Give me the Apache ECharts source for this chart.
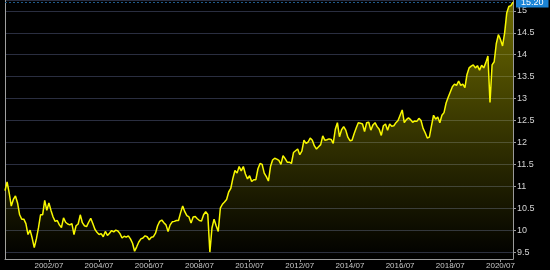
<!DOCTYPE html>
<html>
<head>
<meta charset="utf-8">
<script src="https://cdn.jsdelivr.net/npm/echarts@6/dist/echarts.min.js"></script>
<style>
html,body{margin:0;padding:0;background:#000;}
#chart{width:550px;height:270px;}
</style>
</head>
<body>
<div id="chart"></div>
<script>
// Monthly categories from 2000/10 to 2021/01
const startYear = 2000, startMonth = 10, monthCount = 244;
const categories = [];
for (let k = 0; k < monthCount; k++) {
  const m = startMonth - 1 + k;
  const y = startYear + Math.floor(m / 12);
  const mm = (m % 12) + 1;
  categories.push(y + '/' + (mm < 10 ? '0' + mm : mm));
}

const xTickLabels = ['2002/07','2004/07','2006/07','2008/07','2010/07','2012/07','2014/07','2016/07','2018/07','2020/07'];

const values2000_2004 = [
  10.9, 11.1, 10.85, 10.55, 10.7, 10.78, 10.62, 10.35, 10.25, 10.25,
  10.15, 9.9, 10.0, 9.82, 9.6, 9.8, 10.05, 10.35, 10.35, 10.68,
  10.45, 10.62, 10.45, 10.3, 10.2, 10.22, 10.12, 10.06, 10.28, 10.18,
  10.14, 10.12, 10.15, 9.9, 10.1, 10.14, 10.35, 10.17, 10.1, 10.08,
  10.18, 10.27, 10.15, 10.02, 9.95, 9.9, 9.92, 9.85, 9.97, 9.88
];
const values2004_2008 = [
  9.93, 9.99, 9.96, 10.0, 9.98, 9.92, 9.82, 9.86, 9.84, 9.87,
  9.8, 9.7, 9.52, 9.62, 9.73, 9.8, 9.82, 9.87, 9.85, 9.78,
  9.84, 9.85, 9.93, 10.1, 10.2, 10.23, 10.17, 10.12, 9.97, 10.12,
  10.19, 10.2, 10.22, 10.22, 10.4, 10.55, 10.42, 10.33, 10.3, 10.16,
  10.3, 10.31, 10.26, 10.22, 10.21, 10.35
];
const values2008_2013 = [
  10.42, 10.36, 9.5, 10.05, 10.25, 10.1, 9.97, 10.5, 10.59, 10.64,
  10.7, 10.87, 10.95, 11.18, 11.36, 11.3, 11.45, 11.35, 11.45, 11.28,
  11.17, 11.24, 11.11, 11.15, 11.15, 11.4, 11.52, 11.5, 11.3, 11.22,
  11.12, 11.45, 11.6, 11.64, 11.62, 11.59, 11.5, 11.7, 11.63, 11.55,
  11.55, 11.52, 11.77, 11.81, 11.85, 11.72, 11.8, 12.05, 11.98, 12.01,
  12.1, 12.05, 11.92, 11.85, 11.9
];
const values2013_2018 = [
  11.95, 12.15, 12.05, 12.06, 12.08, 12.07, 11.98, 12.3, 12.45, 12.13,
  12.29, 12.36, 12.28, 12.12, 12.04, 12.05, 12.2, 12.33, 12.45, 12.44,
  12.42, 12.25, 12.45, 12.46, 12.28, 12.4, 12.45, 12.36, 12.3, 12.16,
  12.38, 12.42, 12.28, 12.42, 12.37, 12.38, 12.45, 12.5, 12.62, 12.74,
  12.45, 12.52, 12.56, 12.52, 12.46, 12.49, 12.48, 12.55, 12.5, 12.32,
  12.22, 12.1, 12.12, 12.38, 12.62, 12.53, 12.58
];
const values2018_2021 = [
  12.45, 12.62, 12.68, 12.9, 13.03, 13.15, 13.27, 13.33, 13.3, 13.4,
  13.3, 13.33, 13.25, 13.55, 13.7, 13.74, 13.77, 13.7, 13.75, 13.65,
  13.76, 13.7, 13.82, 13.97, 12.91, 13.77, 13.84, 14.25, 14.46, 14.35,
  14.2, 14.5, 14.95, 15.1, 15.12, 15.2
];

const values = [].concat(values2000_2004, values2004_2008, values2008_2013, values2013_2018, values2018_2021);
const lastValue = values[values.length - 1];

const yMin = 9.342, yMax = 15.248;

const chart = echarts.init(document.getElementById('chart'), null, {renderer: 'canvas'});
const showTick = (idx, val) => xTickLabels.indexOf(val) >= 0;

chart.setOption({
  backgroundColor: '#000000',
  animation: false,
  grid: {left: 5, right: 37, top: 0, bottom: 8},
  xAxis: {
    type: 'category',
    data: categories,
    boundaryGap: false,
    axisLine: {show: true, lineStyle: {color: '#9a9a9a', width: 1}},
    axisTick: {show: true, interval: showTick, length: 3, lineStyle: {color: '#9a9a9a'}},
    axisLabel: {interval: showTick, color: '#c8c8c8', fontSize: 8, margin: 3, fontFamily: 'Liberation Sans, Arial, sans-serif'},
    splitLine: {show: false}
  },
  yAxis: [{
    type: 'value',
    position: 'right',
    min: yMin,
    max: yMax,
    splitNumber: 12,
    minInterval: 0.5,
    maxInterval: 0.5,
    axisLine: {show: true, lineStyle: {color: '#9a9a9a', width: 1}},
    axisTick: {show: true, length: 3, lineStyle: {color: '#9a9a9a'}},
    axisLabel: {color: '#d4d4d4', fontSize: 9, margin: 4, showMinLabel: false, showMaxLabel: false, fontFamily: 'Liberation Sans, Arial, sans-serif'},
    splitLine: {show: true, lineStyle: {color: '#2a2e40', width: 1}}
  }, {
    type: 'value',
    position: 'left',
    min: yMin,
    max: yMax,
    axisLine: {show: true, lineStyle: {color: '#a0a0a0', width: 1}},
    axisTick: {show: false},
    axisLabel: {show: false},
    splitLine: {show: false}
  }],
  series: [{
    type: 'line',
    data: values,
    yAxisIndex: 0,
    showSymbol: false,
    symbol: 'none',
    lineStyle: {color: '#f8f800', width: 1.5},
    areaStyle: {
      color: new echarts.graphic.LinearGradient(0, 0, 0, 1, [
        {offset: 0, color: 'rgba(215,210,0,0.72)'},
        {offset: 1, color: 'rgba(215,210,0,0.0)'}
      ])
    },
    markLine: {
      silent: true,
      symbol: 'none',
      lineStyle: {color: '#1d5a8a', type: [2, 2], width: 1},
      label: {
        show: true,
        position: 'end',
        distance: 3,
        formatter: () => lastValue.toFixed(2),
        color: '#ffffff',
        backgroundColor: '#1b84d6',
        padding: [1, 5, 1, 5],
        fontSize: 9,
        fontFamily: 'Liberation Sans, Arial, sans-serif'
      },
      data: [{yAxis: lastValue}]
    }
  }]
});
</script>
</body>
</html>
